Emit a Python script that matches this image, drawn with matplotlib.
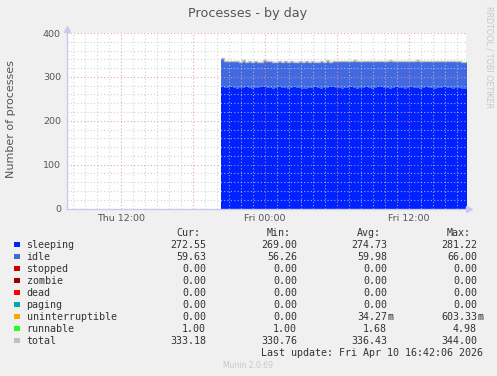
import numpy as np
import matplotlib.pyplot as plt
from matplotlib.ticker import MultipleLocator

# time of first sample (hours since Thu 00:00) and sample spacing
t_start = 20.3
t_step = 0.25

sleeping = [276, 275, 274, 276, 275, 273, 274, 275, 276, 274,
            273, 275, 274, 276, 277, 275, 274, 273, 275, 276,
            274, 275, 273, 274, 276, 275, 274, 273, 272, 274,
            275, 276, 274, 273, 275, 274, 276, 278, 275, 274,
            273, 275, 274, 276, 275, 273, 274, 275, 276, 274,
            273, 275, 277, 276, 274, 275, 273, 274, 276, 275,
            274, 273, 275, 276, 274, 275, 273, 274, 276, 275,
            274, 273, 275, 274, 276, 275, 274, 273, 274, 275,
            273, 272.55]
idle = [64, 61, 60, 59, 60, 61, 59, 60, 58, 60,
        61, 59, 60, 58, 59, 60, 61, 60, 59, 58,
        60, 59, 61, 60, 58, 59, 60, 61, 62, 60,
        59, 58, 60, 61, 59, 60, 58, 57, 60, 61,
        62, 60, 61, 59, 60, 62, 61, 60, 59, 61,
        62, 60, 58, 59, 61, 60, 62, 61, 59, 60,
        61, 62, 60, 59, 61, 60, 62, 61, 59, 60,
        61, 62, 60, 61, 59, 60, 61, 62, 61, 60,
        61, 59.63]
uninterruptible = [0, 0, 0, 0.6, 0, 0, 0, 0, 0, 0,
                   0, 0, 0, 0, 0, 0.3, 0, 0, 0, 0,
                   0, 0, 0, 0, 0, 0, 0, 0, 0, 0,
                   0, 0, 0, 0, 0, 0, 0, 0, 0, 0,
                   0, 0, 0, 0, 0, 0, 0, 0, 0, 0,
                   0, 0, 0, 0, 0, 0, 0, 0, 0, 0,
                   0, 0, 0, 0, 0, 0, 0, 0, 0, 0,
                   0, 0, 0, 0, 0, 0, 0, 0, 0, 0,
                   0, 0]
runnable = [2, 1, 2, 1, 1, 2, 1, 3, 1, 2,
            1, 2, 1, 1, 2, 1, 2, 1, 1, 2,
            1, 3, 1, 2, 1, 1, 2, 1, 2, 1,
            2, 1, 1, 2, 1, 4, 1, 2, 1, 1,
            2, 1, 2, 1, 3, 1, 2, 1, 1, 2,
            1, 2, 1, 2, 1, 1, 3, 1, 2, 1,
            1, 2, 1, 2, 1, 3, 1, 1, 2, 1,
            2, 1, 2, 1, 1, 2, 1, 2, 1, 2,
            1, 1]
total = [342, 337, 336, 336.6, 336, 336, 334, 338, 335, 336,
         335, 336, 335, 335, 338, 336.3, 337, 334, 335, 336,
         335, 337, 335, 336, 335, 335, 336, 335, 336, 335,
         336, 335, 335, 336, 335, 338, 335, 337, 336, 336,
         337, 336, 337, 336, 338, 336, 337, 336, 336, 337,
         336, 337, 336, 337, 336, 336, 338, 336, 337, 336,
         336, 337, 336, 337, 336, 338, 336, 336, 337, 336,
         337, 336, 337, 336, 336, 337, 336, 337, 336, 337,
         335, 333.18]

names = ['sleeping', 'idle', 'stopped', 'zombie', 'dead', 'paging',
         'uninterruptible', 'runnable', 'total']
colors = ['#0022ff', '#4169e1', '#cc0000', '#990000', '#ff0000', '#00aaaa',
          '#ffa500', '#22ff22', '#c0c0c0']
cur = ['272.55', '59.63', '0.00', '0.00', '0.00', '0.00', '0.00', '1.00', '333.18']
vmin = ['269.00', '56.26', '0.00', '0.00', '0.00', '0.00', '0.00', '1.00', '330.76']
avg = ['274.73', '59.98', '0.00', '0.00', '0.00', '0.00', '34.27m', '1.68', '336.43']
vmax = ['281.22', '66.00', '0.00', '0.00', '0.00', '0.00', '603.33m', '4.98', '344.00']
xlabels = ['Thu 12:00', 'Fri 00:00', 'Fri 12:00']
xlabel_pos = [12, 24, 36]

W, H = 497, 376
fig = plt.figure(figsize=(W / 100, H / 100), dpi=100, facecolor='#f0f0f0')
ax = fig.add_axes([66.5 / W, 1 - 208.5 / H, 399 / W, 175.5 / H])
ax.set_facecolor('white')

x_lo, x_hi = 7.46, 40.71
t = t_start + t_step * np.arange(len(sleeping))
tt = np.append(t, x_hi + 1)

def ext(v):
    v = np.asarray(v, dtype=float)
    return np.append(v, v[-1])

base = np.zeros(len(tt))
for vals, col in [(sleeping, colors[0]), (idle, colors[1]),
                  (uninterruptible, colors[6]), (runnable, colors[7])]:
    top = base + ext(vals)
    ax.fill_between(tt, base, top, step='post', color=col, lw=0)
    base = top
ax.step(tt, ext(total), where='post', color=colors[8], lw=1)

ax.set_xlim(x_lo, x_hi)
ax.set_ylim(0, 400)

# grid drawn over data, like rrdtool
for h in np.arange(8, 41, 1):
    c = '#e09090' if h % 6 == 0 else '#c8c8c8'
    ax.axvline(h, color=c, lw=0.8, ls=(0, (1, 2)), alpha=0.8, zorder=5)
for y in range(20, 401, 20):
    c = '#e09090' if y % 100 == 0 else '#c8c8c8'
    ax.axhline(y, color=c, lw=0.8, ls=(0, (1, 2)), alpha=0.8, zorder=5)

ax.set_xticks(xlabel_pos)
ax.set_xticklabels(xlabels)
ax.yaxis.set_major_locator(MultipleLocator(100))
ax.tick_params(colors='#555555', labelsize=6.8, length=0, pad=4)
for s in ax.spines.values():
    s.set_visible(False)

# axis lines with arrows
ax.plot([x_lo, x_lo], [0, 410], color='#c8c8f0', lw=1, clip_on=False, zorder=6)
ax.plot([x_lo], [410], marker='^', color='#c8c8f0', ms=4, clip_on=False, zorder=6)
ax.plot([x_lo, x_hi + 0.3], [0, 0], color='#c8c8f0', lw=1, clip_on=False, zorder=6)
ax.plot([x_hi + 0.3], [0], marker='>', color='#c8c8f0', ms=4, clip_on=False, zorder=6)

def fy(py):
    return 1 - py / H

fig.text(11 / W, fy(119), 'Number of processes', rotation=90, ha='center',
         va='center', fontsize=8, color='#555555')
fig.text(248 / W, fy(14), 'Processes - by day', ha='center', va='center',
         fontsize=9.2, color='#555555')
fig.text(489 / W, fy(57), 'RRDTOOL / TOBI OETIKER', ha='center', va='center',
         rotation=270, fontsize=5.8, color='#c8c8c8')

mono = dict(family='DejaVu Sans Mono', fontsize=7.2, color='#333333', va='center')
cols_x = [206, 297, 387, 477]
for x, hdr in zip(cols_x, ['Cur:', 'Min:', 'Avg:', 'Max:']):
    fig.text((x - 6) / W, fy(233), hdr, ha='right', **mono)

for i, name in enumerate(names):
    y = 244.7 + 12 * i
    fig.patches.append(plt.Rectangle((14 / W, fy(y + 2.5)), 6 / W, 5 / H,
                                     transform=fig.transFigure, color=colors[i], lw=0))
    fig.text(26.5 / W, fy(y), name, ha='left', **mono)
    for x, col in zip(cols_x, [cur, vmin, avg, vmax]):
        s = col[i]
        if s.endswith('m'):
            fig.text(x / W, fy(y), s[:-1], ha='right', **mono)
            fig.text(x / W, fy(y), 'm', ha='left', **mono)
        else:
            fig.text(x / W, fy(y), s, ha='right', **mono)

fig.text(483 / W, fy(353), 'Last update: Fri Apr 10 16:42:06 2026', ha='right', **mono)
fig.text(248 / W, fy(365), 'Munin 2.0.69', ha='center', va='center',
         fontsize=5.5, color='#c8c8c8')

fig.savefig('out.png', dpi=100, facecolor=fig.get_facecolor())
